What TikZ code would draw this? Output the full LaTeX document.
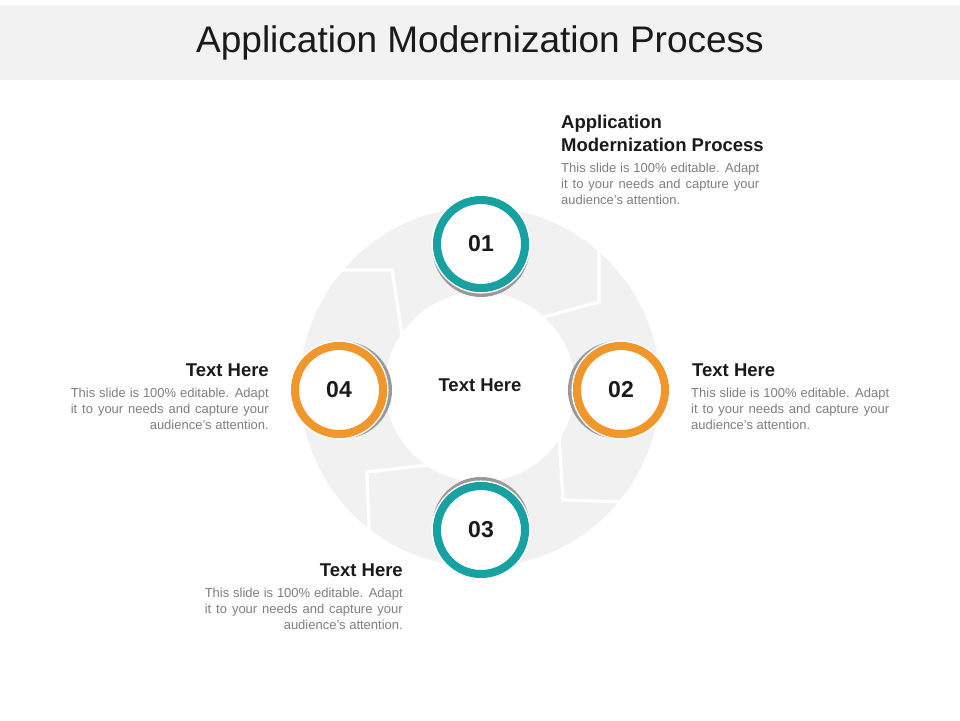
\documentclass[tikz,border=0pt]{standalone}
\usepackage{fontspec}
\setmainfont{Liberation Sans}
\definecolor{titlebg}{HTML}{F2F2F2}
\definecolor{ringgray}{HTML}{F1F1F1}
\definecolor{tealc}{HTML}{17A1A1}
\definecolor{orangec}{HTML}{F0962A}
\definecolor{shadowc}{HTML}{999999}
\definecolor{bodygray}{HTML}{7F7F7F}
\definecolor{headc}{HTML}{1A1A1A}
\begin{document}
\begin{tikzpicture}[x=1pt,y=-1pt,
  numcirc/.style={circle, minimum size=88pt, line width=8pt, fill=white, inner sep=0pt,
    font=\bfseries\fontsize{23}{27}\selectfont, text=headc},
  shadowcirc/.style={fill=shadowc},
  halo/.style={draw=white, line width=1.5pt},
  sepline/.style={draw=white, line width=3.2pt, line join=miter},
  headtxt/.style={inner sep=0pt, font=\bfseries\fontsize{18.5}{22}\selectfont, text=headc},
  bodytxt/.style={inner sep=0pt, font=\fontsize{13}{16}\selectfont, text=bodygray}]
\useasboundingbox (0,0) rectangle (960,720);
\fill[white] (0,0) rectangle (960,720);
\fill[titlebg] (0,5) rectangle (960,80);
\node[anchor=base, inner sep=0pt, font=\fontsize{37}{44}\selectfont, text=headc] (title) at (480,52) {Application Modernization Process};

% ring
\fill[ringgray, even odd rule] (480,387) circle (180pt) (480,387) circle (95pt);
% chevron separators
\draw[sepline] (590,230) -- (599,250) -- (599,302) -- (540,318);
\draw[sepline] (330,270) -- (392,270) -- (402,334);
\draw[sepline] (559,436) -- (563,500) -- (628,502);
\draw[sepline] (436,464) -- (367,472) -- (369,530);

% shadows
\fill[shadowcirc] (481,248.5) circle (48.5pt);
\fill[shadowcirc] (616.5,390) circle (48.5pt);
\fill[shadowcirc] (481,525.5) circle (48.5pt);
\fill[shadowcirc] (343.5,390) circle (48.5pt);
\draw[halo] (481,244) circle (48.8pt);
\draw[halo] (621,390) circle (48.8pt);
\draw[halo] (481,530) circle (48.8pt);
\draw[halo] (339,390) circle (48.8pt);

% number circles
\node[numcirc, draw=tealc] (c1) at (481,244) {01};
\node[numcirc, draw=orangec] (c2) at (621,390) {02};
\node[numcirc, draw=tealc] (c3) at (481,530) {03};
\node[numcirc, draw=orangec] (c4) at (339,390) {04};

\node[headtxt] (center) at (480,385) {Text Here};

% top right block
\node[headtxt, anchor=base west] (h1a) at (561,128) {Application};
\node[headtxt, anchor=base west] (h1b) at (561,151) {Modernization Process};
\node[bodytxt, anchor=base west] (b1a) at (561,172) {\hbox to 198pt{This slide is 100\% editable. Adapt}};
\node[bodytxt, anchor=base west] (b1b) at (561,188) {\hbox to 198pt{it to your needs and capture your}};
\node[bodytxt, anchor=base west] (b1c) at (561,204) {audience's attention.};

% right block
\node[headtxt, anchor=base west] (h2) at (692,376) {Text Here};
\node[bodytxt, anchor=base west] (b2a) at (691,397) {\hbox to 198pt{This slide is 100\% editable. Adapt}};
\node[bodytxt, anchor=base west] (b2b) at (691,413) {\hbox to 198pt{it to your needs and capture your}};
\node[bodytxt, anchor=base west] (b2c) at (691,429) {audience's attention.};

% left block
\node[headtxt, anchor=base east] (h4) at (269,376) {Text Here};
\node[bodytxt, anchor=base east] (b4a) at (269,397) {\hbox to 198pt{This slide is 100\% editable. Adapt}};
\node[bodytxt, anchor=base east] (b4b) at (269,413) {\hbox to 198pt{it to your needs and capture your}};
\node[bodytxt, anchor=base east] (b4c) at (269,429) {audience's attention.};

% bottom block
\node[headtxt, anchor=base east] (h3) at (403,576) {Text Here};
\node[bodytxt, anchor=base east] (b3a) at (403,597) {\hbox to 198pt{This slide is 100\% editable. Adapt}};
\node[bodytxt, anchor=base east] (b3b) at (403,613) {\hbox to 198pt{it to your needs and capture your}};
\node[bodytxt, anchor=base east] (b3c) at (403,629) {audience's attention.};
\end{tikzpicture}
\end{document}
